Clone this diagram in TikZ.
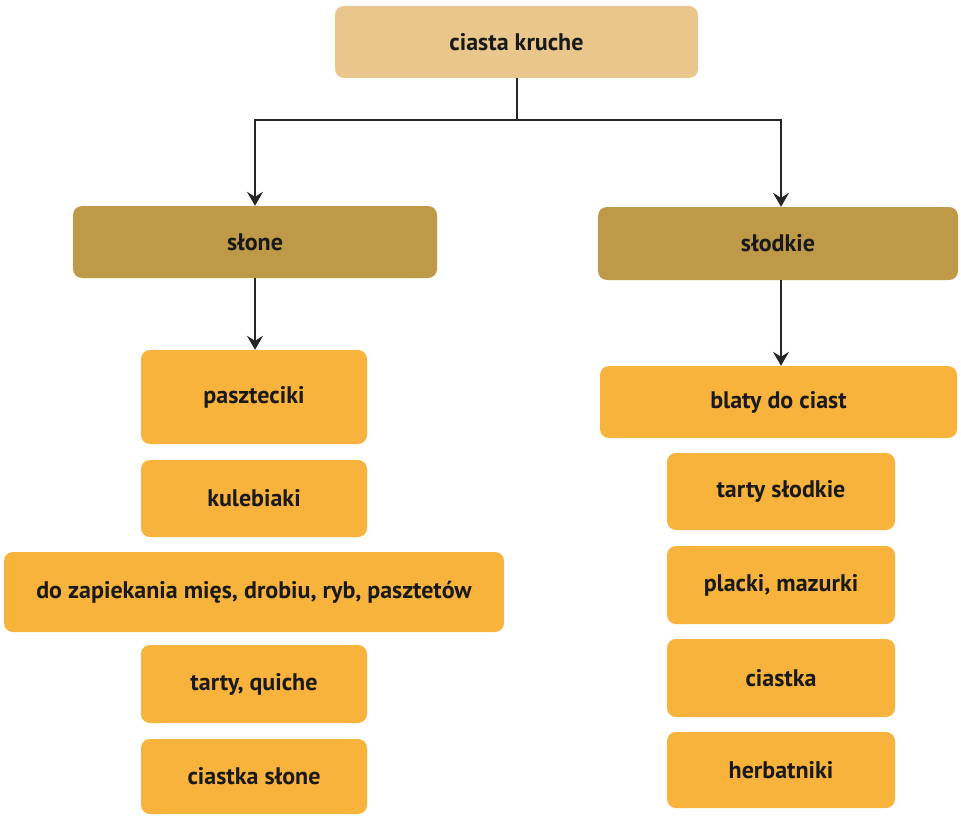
\documentclass[tikz,border=0pt]{standalone}
\usepackage{fontspec}
\setmainfont{PT Sans}
\usetikzlibrary{arrows.meta}
\definecolor{topc}{HTML}{E9C68C}
\definecolor{midc}{HTML}{BE9947}
\definecolor{leafc}{HTML}{F8B33D}
\tikzset{
  box/.style={rounded corners=9pt, inner sep=0pt, font=\bfseries\fontsize{24}{28}\selectfont, text=black!90},
  topbox/.style={box, fill=topc},
  midbox/.style={box, fill=midc},
  leafbox/.style={box, fill=leafc},
  conn/.style={line width=1.5pt, black!85},
  arr/.style={conn, -{Stealth[length=14pt,width=16pt,inset=5pt]}}
}
\begin{document}
\begin{tikzpicture}[x=1pt,y=-1pt]
\useasboundingbox (0,0) rectangle (961,816);
\node[topbox, minimum width=363pt, minimum height=72pt] (ck) at (516.5,42) {ciasta kruche};
\node[midbox, minimum width=364pt, minimum height=72pt] (sl) at (255,242) {słone};
\node[midbox, minimum width=360pt, minimum height=73pt] (sd) at (778,243.5) {słodkie};
\node[leafbox, minimum width=226pt, minimum height=94pt] (p1) at (254,397) {paszteciki};
\node[leafbox, minimum width=226pt, minimum height=77pt] (p2) at (254,498.5) {kulebiaki};
\node[leafbox, minimum width=500pt, minimum height=80pt] (p3) at (254,592) {do zapiekania mięs, drobiu, ryb, pasztetów};
\node[leafbox, minimum width=226pt, minimum height=78pt] (p4) at (254,684) {tarty, quiche};
\node[leafbox, minimum width=226pt, minimum height=75pt] (p5) at (254,776.5) {ciastka słone};
\node[leafbox, minimum width=357pt, minimum height=72pt] (q1) at (778.5,402) {blaty do ciast};
\node[leafbox, minimum width=228pt, minimum height=77pt] (q2) at (781,491.5) {tarty słodkie};
\node[leafbox, minimum width=228pt, minimum height=78pt] (q3) at (781,585) {placki, mazurki};
\node[leafbox, minimum width=228pt, minimum height=78pt] (q4) at (781,678) {ciastka};
\node[leafbox, minimum width=228pt, minimum height=76pt] (q5) at (781,770) {herbatniki};
\coordinate (j) at (517,120);
\coordinate (jl) at (255,120);
\coordinate (jr) at (781,120);
\coordinate (sr) at (781,280);
\draw[conn] (ck.south -| j) -- (j);
\draw[arr] (j) -- (jl) -- (sl.north);
\draw[arr] (j) -- (jr) -- (jr |- sd.north);
\draw[arr] (sl.south) -- (sl.south |- p1.north);
\draw[arr] (sr) -- (sr |- q1.north);
\end{tikzpicture}
\end{document}
